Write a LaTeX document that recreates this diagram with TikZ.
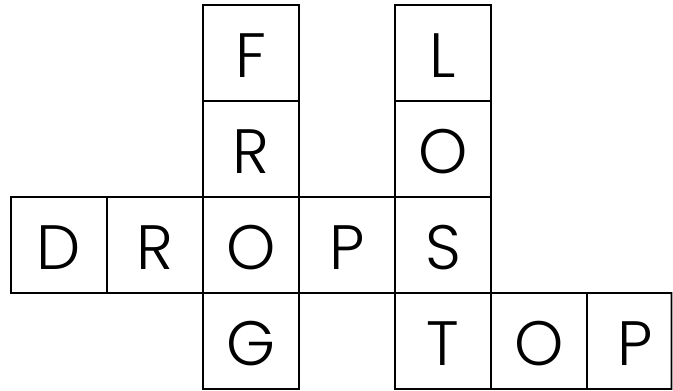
\documentclass[tikz,border=0pt]{standalone}
\usepackage{fontspec}
\setmainfont{Poppins}[UprightFont=* Light]
\begin{document}
\begin{tikzpicture}[x=0.75pt,y=-0.75pt,
  letter/.style={font=\fontsize{47}{47}\selectfont, inner sep=0pt, text height=24pt, text depth=0pt, yshift=-6.5pt},
  cell/.style={draw=black,line width=1.3pt,minimum width=72pt,minimum height=72pt,inner sep=0pt,outer sep=0pt},
  opencell/.style={cell,draw=none}]
\useasboundingbox (0,0) rectangle (673,390);
\def\cs{96.1}
\foreach \c/\r/\l/\n in {2/0/F/f,4/0/L/l,2/1/R/r1,4/1/O/o1,0/2/D/d,1/2/R/r2,2/2/O/o2,3/2/P/p1,4/2/S/s,2/3/G/g,4/3/T/t,5/3/O/o3}{
  \node[cell,label={[letter]center:\l}] (\n) at ({10.7+\cs*(\c+0.5)},{4.6+\cs*(\r+0.5)}) {};
}
\node[opencell,label={[letter]center:P}] (p2) at ({10.7+\cs*6.5},{4.6+\cs*3.5}) {};
\draw[line width=1.3pt] (o3.north east) -- (671.5,{4.6+\cs*3}) -- (671.5,{4.6+\cs*4}) -- (o3.south east);
\end{tikzpicture}
\end{document}
